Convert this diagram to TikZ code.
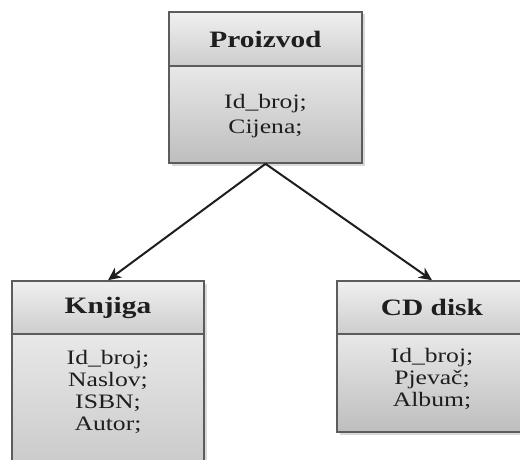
\documentclass[tikz,border=0pt]{standalone}
\usepackage{fontspec}
\setmainfont{Liberation Serif}[FakeStretch=1.25]
\usetikzlibrary{arrows.meta,shadows}

\definecolor{edge}{HTML}{5C5C5C}
\definecolor{hdtop}{HTML}{F0F0F0}
\definecolor{hdbot}{HTML}{CDCDCD}
\definecolor{bdtop}{HTML}{E8E8E8}
\definecolor{bdbot}{HTML}{BEBEBE}
\definecolor{ink}{HTML}{1E1E1E}

\tikzset{
  boxpart/.style={draw=edge, line width=1.6pt, inner sep=0pt,
    drop shadow={shadow xshift=2.5pt, shadow yshift=-2.5pt, opacity=0.3}},
  headpart/.style={boxpart, top color=hdtop, bottom color=hdbot,
    font=\fontsize{23.5}{25}\selectfont\bfseries, text=ink},
  bodypart/.style={boxpart, top color=bdtop, bottom color=bdbot},
  attrs/.style={align=center, inner sep=0pt, text=ink,
    font=\fontsize{20.5}{22}\selectfont},
  inherit/.style={draw=ink, line width=2pt,
    -{Stealth[length=13pt, width=12pt, inset=4pt]}}
}

\begin{document}
\begin{tikzpicture}[x=1pt, y=-1pt]
  \useasboundingbox (0,0) rectangle (520,460);
  \clip (0,0) rectangle (520,460);

  % class headers
  \node[headpart, minimum width=193pt, minimum height=54pt] (pHead) at (265.5,39) {Proizvod};
  \node[headpart, minimum width=192pt, minimum height=53pt] (kHead) at (108,307.5) {Knjiga};
  \node[headpart, minimum width=190pt, minimum height=53pt] (cHead) at (432,307.5) {CD disk};

  % attribute compartments
  \node[bodypart, minimum width=193pt, minimum height=97pt] (pBody) at (265.5,114.5) {};
  \node[bodypart, minimum width=192pt, minimum height=186pt] (kBody) at (108,427) {};
  \node[bodypart, minimum width=190pt, minimum height=98pt] (cBody) at (432,383) {};

  % attribute lists
  \node[attrs, font=\fontsize{20.5}{24.5}\selectfont] (pAttr) at (265.5,116) {Id\_broj;\\Cijena;};
  \node[attrs] (kAttr) at (108,391.5) {Id\_broj;\\Naslov;\\ISBN;\\Autor;};
  \node[attrs] (cAttr) at (432,379) {Id\_broj;\\Pjevač;\\Album;};

  % generalisation arrows
  \draw[inherit] (pBody.south) -- (kHead.north);
  \draw[inherit] (pBody.south) -- (cHead.north);
\end{tikzpicture}
\end{document}
